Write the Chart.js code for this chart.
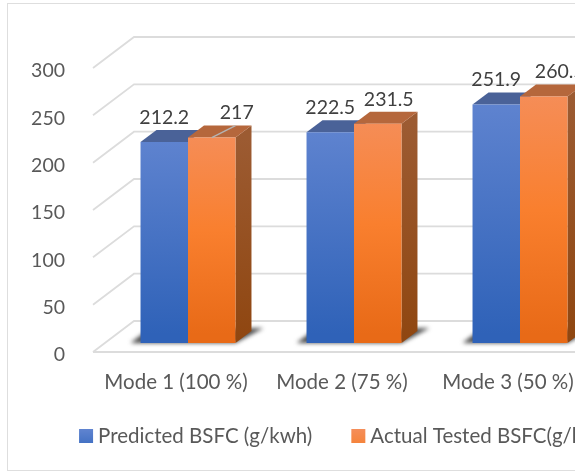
<!DOCTYPE html>
<html>
<head>
<meta charset="utf-8">
<script src="https://cdn.jsdelivr.net/npm/chart.js@4"></script>
<style>
html, body { margin: 0; background: #fff; overflow: hidden; width: 575px; height: 471px; }
#frame { position: absolute; left: 7px; top: 3px; width: 680px; height: 466px; border: 1.5px solid #dedede; }
#bsfcChart { position: absolute; left: 0; top: 0; }
</style>
</head>
<body>
<div id="frame"></div>
<canvas id="bsfcChart" width="694" height="471"></canvas>
<script>
const categories = ['Mode 1 (100 %)', 'Mode 2 (75 %)', 'Mode 3 (50 %)'];
const predictedBsfc = [212.2, 222.5, 251.9];
const actualBsfc = [217, 231.5, 260.5];
const predictedName = 'Predicted BSFC (g/kwh)';
const actualName = 'Actual Tested BSFC(g/kwh)';

const fontName = 'Lato, Carlito, sans-serif';
// fake 3d: wall depth, and how far the bars sit in from the front edge
const wallDx = 41, wallDy = -31;
const barDx = 12, barDy = -9;
const depthDx = 16, depthDy = -12;
// data labels were dragged around by hand in the original
const labelNudge = [[0, 25], [0, 11], [0, 16]];

const styles = [
    { top: '#4a6298', side: '#3f5a94', grad: ['#6084d0', '#2f62b8'], solid: '#4472c4' },
    { top: '#b5673c', side: ['#9c5b32', '#8f4610'], grad: ['#f58e5a', '#f97f2e', '#e86a17'], solid: '#f5843c' }
];

function barFill(i) {
    return function (c) {
        const s = styles[i];
        if (!c.chart.chartArea || c.raw === undefined) return s.solid;
        const y = c.chart.scales.y;
        const g = c.chart.ctx.createLinearGradient(0, y.getPixelForValue(c.raw) + barDy, 0, y.getPixelForValue(0) + barDy);
        s.grad.forEach((col, k) => g.addColorStop(k / (s.grad.length - 1), col));
        return g;
    };
}

function poly(ctx, pts, fill) {
    ctx.beginPath();
    pts.forEach((p, i) => i ? ctx.lineTo(p[0], p[1]) : ctx.moveTo(p[0], p[1]));
    ctx.closePath();
    ctx.fillStyle = fill;
    ctx.fill();
}

const fake3d = {
    id: 'fake3d',
    beforeDatasetsDraw(chart) {
        const ctx = chart.ctx;
        const area = chart.chartArea;
        const yScale = chart.scales.y;

        // walls and floor
        ctx.save();
        ctx.strokeStyle = '#dcdcdc';
        ctx.lineWidth = 1.8;
        yScale.ticks.forEach(t => {
            const y = yScale.getPixelForValue(t.value);
            ctx.beginPath();
            ctx.moveTo(area.left, y);
            ctx.lineTo(area.left + wallDx, y + wallDy);
            ctx.lineTo(area.right + wallDx, y + wallDy);
            ctx.stroke();
        });
        const y0 = yScale.getPixelForValue(0);
        ctx.beginPath();
        ctx.moveTo(area.left, y0);
        ctx.lineTo(area.right, y0);
        ctx.lineTo(area.right + wallDx, y0 + wallDy);
        ctx.stroke();
        ctx.restore();

        const blue = chart.getDatasetMeta(0).data;
        const orange = chart.getDatasetMeta(1).data;

        // floor shadows
        ctx.save();
        ctx.translate(barDx, barDy);
        ctx.filter = 'blur(2px)';
        blue.forEach((b, i) => {
            const o = orange[i];
            const left = b.x - b.width / 2;
            const right = o.x + o.width / 2;
            poly(ctx, [
                [left - 10, b.base],
                [left + 6, b.base - 12],
                [right + 28, b.base - 15],
                [right, b.base]
            ], '#4a4a4a');
        });
        ctx.restore();

        // top and side faces
        ctx.save();
        ctx.translate(barDx, barDy);
        [blue, orange].forEach((bars, d) => {
            bars.forEach(b => {
                const l = b.x - b.width / 2, r = b.x + b.width / 2;
                if (d === 1) {
                    const g = ctx.createLinearGradient(0, b.y, 0, b.base);
                    g.addColorStop(0, styles[1].side[0]);
                    g.addColorStop(1, styles[1].side[1]);
                    poly(ctx, [[r, b.y], [r + depthDx, b.y + depthDy], [r + depthDx, b.base + depthDy], [r, b.base]], g);
                }
                poly(ctx, [[l, b.y], [l + depthDx, b.y + depthDy], [r + depthDx, b.y + depthDy], [r, b.y]], styles[d].top);
            });
        });
        ctx.restore();
    },
    beforeDatasetDraw(chart) {
        chart.ctx.save();
        chart.ctx.translate(barDx, barDy);
    },
    afterDatasetDraw(chart) {
        chart.ctx.restore();
    },
    afterDatasetsDraw(chart) {
        const ctx = chart.ctx;
        ctx.save();
        ctx.translate(barDx, barDy);

        // stray gridline that shows on the first orange cap
        const first = chart.getDatasetMeta(1).data[0];
        ctx.strokeStyle = '#b4b4b4';
        ctx.lineWidth = 1.4;
        ctx.beginPath();
        ctx.moveTo(first.x, first.y);
        ctx.lineTo(first.x + first.width / 2, first.y + depthDy);
        ctx.stroke();

        ctx.font = '19.5px ' + fontName;
        ctx.fillStyle = '#404040';
        ctx.textAlign = 'center';
        ctx.textBaseline = 'middle';
        [predictedBsfc, actualBsfc].forEach((vals, d) => {
            chart.getDatasetMeta(d).data.forEach((b, i) => {
                ctx.fillText(String(vals[i]), b.x + labelNudge[i][d], b.y - 24.5);
            });
        });
        ctx.restore();
    }
};

// the built-in legend forces a wider box-to-text gap than the original has
const tightLegend = {
    id: 'tightLegend',
    afterDraw(chart) {
        const ctx = chart.ctx;
        const box = 14, gap = 5, between = 39, midY = 436;
        ctx.save();
        ctx.font = '20.5px ' + fontName;
        ctx.textBaseline = 'middle';
        ctx.textAlign = 'left';
        const names = chart.data.datasets.map(d => d.label);
        const total = names.reduce((w, n) => w + box + gap + ctx.measureText(n).width, between * (names.length - 1));
        let x = (chart.width - total) / 2;
        names.forEach((n, i) => {
            const g = ctx.createLinearGradient(0, midY - box / 2, 0, midY + box / 2);
            g.addColorStop(0, styles[i].grad[0]);
            g.addColorStop(1, styles[i].solid);
            ctx.fillStyle = g;
            ctx.fillRect(x, midY - box / 2, box, box);
            ctx.fillStyle = '#595959';
            ctx.fillText(n, x + box + gap, midY);
            x += box + gap + ctx.measureText(n).width + between;
        });
        ctx.restore();
    }
};

const ctx = document.getElementById('bsfcChart').getContext('2d');
const chart = new Chart(ctx, {
    type: 'bar',
    data: {
        labels: categories,
        datasets: [
            { label: predictedName, data: predictedBsfc, backgroundColor: barFill(0), clip: false },
            { label: actualName, data: actualBsfc, backgroundColor: barFill(1), clip: false }
        ]
    },
    plugins: [fake3d, tightLegend],
    options: {
        responsive: false,
        animation: false,
        layout: { padding: { top: 68, right: 103, bottom: 0, left: 0 } },
        datasets: { bar: { barPercentage: 1, categoryPercentage: 0.572 } },
        plugins: {
            tooltip: { enabled: false },
            legend: { display: false }
        },
        scales: {
            x: {
                grid: { display: false },
                border: { display: false },
                ticks: { color: '#595959', padding: 10, maxRotation: 0, font: { family: fontName, size: 20.5 } },
                afterFit(s) { s.height = 119; }
            },
            y: {
                min: 0,
                max: 300,
                grid: { display: false },
                border: { display: false },
                ticks: { stepSize: 50, color: '#595959', padding: 20, labelOffset: 3, font: { family: fontName, size: 19.5 } },
                afterFit(s) { s.width = 93; }
            }
        }
    }
});
</script>
</body>
</html>
